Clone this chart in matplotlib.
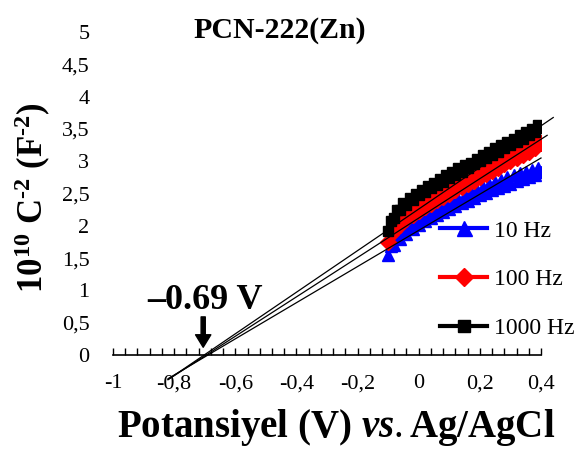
import matplotlib.pyplot as plt
from matplotlib.ticker import MultipleLocator, FuncFormatter

plt.rcParams['font.family'] = 'Liberation Serif'
plt.rcParams['mathtext.fontset'] = 'custom'
plt.rcParams['mathtext.rm'] = 'Liberation Serif'
plt.rcParams['mathtext.bf'] = 'Liberation Serif:bold'
plt.rcParams['mathtext.it'] = 'Liberation Serif:italic:bold'

# potential (V vs Ag/AgCl)
potential = [-0.10, -0.09, -0.08, -0.07, -0.06, -0.05, -0.04, -0.03, -0.02, -0.01,
             0.00, 0.01, 0.02, 0.03, 0.04, 0.05, 0.06, 0.07, 0.08, 0.09,
             0.10, 0.11, 0.12, 0.13, 0.14, 0.15, 0.16, 0.17, 0.18, 0.19,
             0.20, 0.21, 0.22, 0.23, 0.24, 0.25, 0.26, 0.27, 0.28, 0.29,
             0.30, 0.31, 0.32, 0.33, 0.34, 0.35, 0.36, 0.37, 0.38, 0.39, 0.40]

# 10^10 C^-2 values (noisy measured points)
c2_10hz = [1.55, 1.68, 1.70, 1.82, 1.80, 1.91, 1.88, 1.99, 1.95, 2.06,
           2.01, 2.12, 2.07, 2.18, 2.12, 2.24, 2.16, 2.28, 2.21, 2.34,
           2.26, 2.38, 2.31, 2.42, 2.35, 2.47, 2.39, 2.52, 2.43, 2.56,
           2.47, 2.60, 2.51, 2.64, 2.55, 2.68, 2.58, 2.71, 2.62, 2.75,
           2.65, 2.78, 2.69, 2.81, 2.72, 2.84, 2.75, 2.87, 2.78, 2.90, 2.84]
c2_100hz = [1.75, 1.88, 1.92, 2.03, 2.02, 2.13, 2.11, 2.20, 2.17, 2.26,
            2.23, 2.32, 2.29, 2.38, 2.34, 2.43, 2.40, 2.48, 2.45, 2.54,
            2.50, 2.59, 2.55, 2.64, 2.60, 2.69, 2.65, 2.74, 2.70, 2.79,
            2.75, 2.84, 2.80, 2.89, 2.85, 2.94, 2.90, 2.99, 2.95, 3.04,
            3.00, 3.09, 3.05, 3.14, 3.10, 3.19, 3.15, 3.24, 3.20, 3.30, 3.28]
c2_1000hz = [1.92, 2.07, 2.12, 2.24, 2.24, 2.35, 2.33, 2.43, 2.40, 2.50,
             2.47, 2.56, 2.52, 2.62, 2.58, 2.67, 2.63, 2.73, 2.68, 2.78,
             2.74, 2.83, 2.79, 2.89, 2.84, 2.94, 2.90, 2.98, 2.95, 3.04,
             3.00, 3.10, 3.05, 3.15, 3.10, 3.20, 3.15, 3.25, 3.20, 3.30,
             3.25, 3.35, 3.30, 3.40, 3.35, 3.45, 3.40, 3.50, 3.45, 3.56, 3.52]

series_labels = ['10 Hz', '100 Hz', '1000 Hz']
series_colors = ['#0000FF', '#FF0000', '#000000']
series_markers = ['^', 'D', 's']

# linear (Mott-Schottky) trendlines: slope, intercept, x start, x end
fit_slope = [2.80, 3.05, 3.22]
fit_intercept = [1.93, 2.12, 2.26]
fit_x0 = [-0.82, -0.82, -0.82]
fit_x1 = [0.40, 0.42, 0.44]

flat_band = -0.69

fig = plt.figure(figsize=(5.84, 4.53), dpi=100)
ax = fig.add_axes([0.1935, 0.2163, 0.7329, 0.713])

data = [c2_10hz, c2_100hz, c2_1000hz]
msizes = [9, 8, 7.5]
for vals, lab, col, mk, ms in zip(data, series_labels, series_colors, series_markers, msizes):
    ax.plot(potential, vals, color=col, marker=mk, markersize=ms, lw=3, label=lab,
            markeredgecolor=col, zorder=2)

for a, b, x0, x1 in zip(fit_slope, fit_intercept, fit_x0, fit_x1):
    ax.plot([x0, x1], [a * x0 + b, a * x1 + b], color='black', lw=0.9, zorder=3, clip_on=False)

ax.set_xlim(-1, 0.4)
ax.set_ylim(0, 5)
for s in ['top', 'right', 'left']:
    ax.spines[s].set_visible(False)
ax.spines['bottom'].set_linewidth(1.2)

comma = FuncFormatter(lambda v, p: ('%g' % round(v, 2)).replace('.', ','))
ax.xaxis.set_major_locator(MultipleLocator(0.2))
ax.xaxis.set_minor_locator(MultipleLocator(0.04))
ax.yaxis.set_major_locator(MultipleLocator(0.5))
ax.xaxis.set_major_formatter(comma)
ax.yaxis.set_major_formatter(comma)
ax.tick_params(axis='x', which='both', direction='in', length=5, width=1, labelsize=16, pad=14)
ax.tick_params(axis='y', length=0, labelsize=16, pad=17)

ax.annotate('', xy=(-0.705, 0.12), xytext=(-0.705, 0.59),
            arrowprops=dict(facecolor='black', edgecolor='black', width=3, headwidth=11, headlength=9))
ax.text(-0.70, 0.85, '\u2013' + ('%.2f' % -flat_band) + ' V', fontsize=26, fontweight='bold',
        ha='center', va='center')

fig.text(0.479, 0.932, 'PCN-222(Zn)', fontsize=21.5, fontweight='bold', ha='center', va='center')
fig.text(0.575, 0.035, r'Potansiyel (V) $\mathit{vs.}$Ag/AgCl', fontsize=28, fontweight='bold',
         ha='center', va='baseline')
fig.text(0.057, 0.565, '$\\mathbf{10^{10}\\ C^{\u20102}\\ (F^{\u20102})}$', fontsize=25, rotation=90,
         ha='center', va='center')

ax.legend(loc='upper left', bbox_to_anchor=(440 / 584, 1 - 220 / 453), bbox_transform=fig.transFigure,
          frameon=False, fontsize=17, handlelength=2.0, handletextpad=0.3, labelspacing=1.15,
          borderpad=0, borderaxespad=0, markerscale=1.2)

fig.savefig('out.png', dpi=100)
